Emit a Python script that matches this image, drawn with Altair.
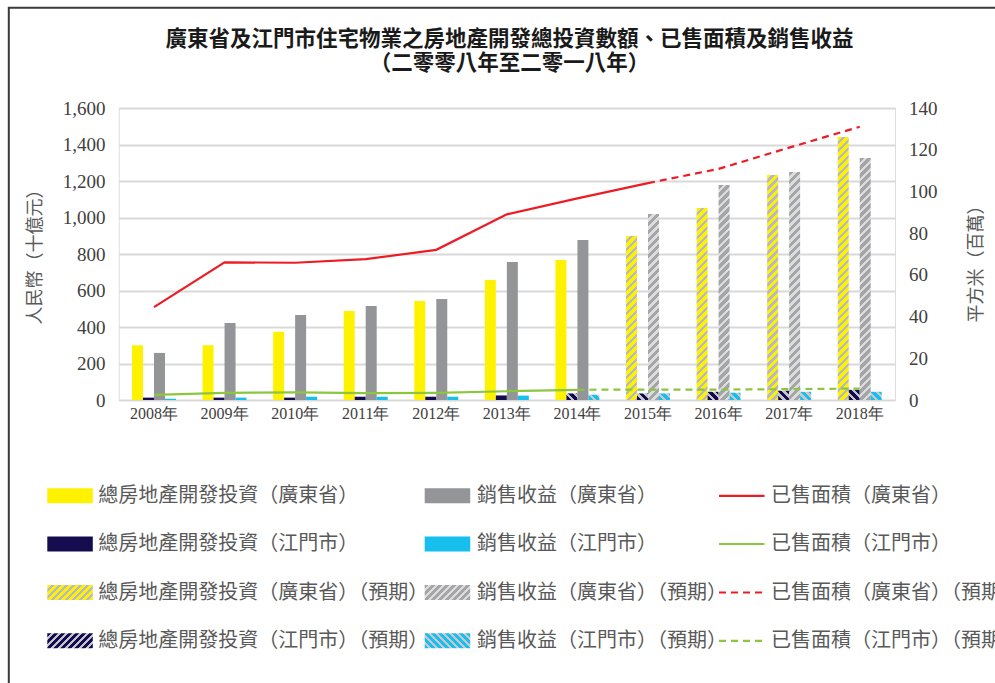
import altair as alt

# ---------------- data ----------------
years = ["2008年", "2009年", "2010年", "2011年", "2012年", "2013年",
         "2014年", "2015年", "2016年", "2017年", "2018年"]
gd_invest = [300, 300, 374, 488, 542, 657, 767, 899, 1052, 1233, 1441]
gd_sales = [258, 422, 466, 515, 553, 756, 877, 1019, 1178, 1249, 1326]
jm_invest = [13, 13, 13, 18, 18, 25, 36, 36, 45, 51, 56]
jm_sales = [7, 13, 18, 18, 18, 24, 29, 36, 40, 45, 45]
gd_area = [44.5, 66.0, 65.8, 67.5, 72.0, 89.0, 96.7, 104.0, 110.8, 121.0, 131.0]
jm_area = [2.5, 3.4, 3.7, 3.3, 3.4, 4.2, 4.9, 5.0, 5.0, 5.2, 5.5]
gd_forecast_from = "2015年"
jm_forecast_from = "2014年"

title_lines = ["廣東省及江門市住宅物業之房地產開發總投資數額、已售面積及銷售收益",
               "（二零零八年至二零一八年）"]
legend_labels = [
    "總房地產開發投資（廣東省）", "銷售收益（廣東省）", "已售面積（廣東省）",
    "總房地產開發投資（江門市）", "銷售收益（江門市）", "已售面積（江門市）",
    "總房地產開發投資（廣東省）（預期）", "銷售收益（廣東省）（預期）", "已售面積（廣東省）（預期）",
    "總房地產開發投資（江門市）（預期）", "銷售收益（江門市）（預期）", "已售面積（江門市）（預期）",
]

# ---------------- style ----------------
W, H = 776.3, 292.0
LEFT_MAX, RIGHT_MAX = 1600, 140
YELLOW, NAVY, GRAY, CYAN = "#fff200", "#140c4f", "#939598", "#17bfef"
RED, GREEN = "#ed1c24", "#8cc63f"
HATCH2 = {"gd_inv": "#b5b7cc", "jm_inv": "#c4c4cc", "gd_sales": "#dcdcdc", "jm_sales": "#c8c8cc"}
BASE = {"gd_inv": YELLOW, "jm_inv": NAVY, "gd_sales": "#a3a5a8", "jm_sales": CYAN}
SOLID = {"gd_inv": YELLOW, "jm_inv": NAVY, "gd_sales": GRAY, "jm_sales": CYAN}
BACK = {"gd_inv": False, "jm_inv": True, "gd_sales": False, "jm_sales": True}
CJK = "Noto Sans CJK TC"


def hatch(c1, c2, w, h, period=8.0, frac2=0.42, back=False):
    L = w + h
    t = L / (w * w + h * h)
    stops = []
    pos = 0.0
    while pos < L - 1e-9:
        a = pos / L
        b = min((pos + period * (1 - frac2)) / L, 1.0)
        c = min((pos + period) / L, 1.0)
        stops += [{"offset": a, "color": c1}, {"offset": b, "color": c1},
                  {"offset": b, "color": c2}, {"offset": c, "color": c2}]
        pos += period
    if back:
        x1, y1, x2, y2 = 0, 1, w * t, 1 - h * t
    else:
        x1, y1, x2, y2 = 0, 0, w * t, h * t
    return {"gradient": "linear", "x1": x1, "y1": y1, "x2": x2, "y2": y2, "stops": stops}


series_order = ["gd_inv", "jm_inv", "gd_sales", "jm_sales"]
series_vals = {"gd_inv": gd_invest, "jm_inv": jm_invest, "gd_sales": gd_sales, "jm_sales": jm_sales}
bar_w = (W / 11) * (1 - 0.377) / 4

bar_rows = []
for s in series_order:
    start = years.index(gd_forecast_from if s.startswith("gd") else jm_forecast_from)
    for i, y in enumerate(years):
        v = series_vals[s][i]
        if i >= start:
            h = max(v / LEFT_MAX * H, 1.0)
            fill = hatch(BASE[s], HATCH2[s], bar_w, h, back=BACK[s])
        else:
            fill = SOLID[s]
        bar_rows.append({"year": y, "series": s, "value": v, "fill": fill})

line_solid, line_dash = [], []
for key, vals, start_year in [("gd", gd_area, gd_forecast_from), ("jm", jm_area, jm_forecast_from)]:
    k = years.index(start_year)
    for i, y in enumerate(years):
        if i <= k:
            line_solid.append({"year": y, "series": key, "value": vals[i]})
        if i >= k:
            line_dash.append({"year": y, "series": key, "value": vals[i]})

x_scale = alt.Scale(domain=years, paddingInner=0.377, paddingOuter=0.1885)
x_axis = alt.Axis(title=None, labelAngle=0, ticks=False, domain=False, grid=False,
                  labelFont="Liberation Serif", labelFontSize=16, labelColor="#404040",
                  labelPadding=5)

bars = alt.Chart(alt.Data(values=bar_rows)).mark_bar().encode(
    x=alt.X("year:N", scale=x_scale, axis=x_axis),
    xOffset=alt.XOffset("series:N", scale=alt.Scale(domain=series_order, paddingInner=0, paddingOuter=0)),
    y=alt.Y("value:Q", scale=alt.Scale(domain=[0, LEFT_MAX], nice=False),
            axis=alt.Axis(title="人民幣（十億元）", values=list(range(0, 1601, 200)), format=",.0f",
                          grid=True, gridColor="#d9d9d9", gridWidth=1.8, domain=False, ticks=False,
                          labelFont="Liberation Serif", labelFontSize=19, labelColor="#404040",
                          labelPadding=13.7, titleFont=CJK, titleFontSize=18, titleFontWeight="normal",
                          titleColor="#595959", titleX=-83.7, titleY=144, titleAngle=270,
                          titleAlign="center", titleBaseline="middle")),
    fill=alt.Fill("fill:N", scale=None),
)

line_color = alt.Color("series:N", scale=alt.Scale(domain=["gd", "jm"], range=[RED, GREEN]), legend=None)
right_axis = alt.Axis(title="平方米（百萬）", orient="right", values=list(range(0, 141, 20)),
                      format=".0f", grid=False, domain=False, ticks=False,
                      labelFont="Liberation Serif", labelFontSize=19, labelColor="#404040",
                      labelPadding=13.5, titleFont=CJK, titleFontSize=18, titleFontWeight="normal",
                      titleColor="#595959", titleX=81, titleY=151, titleAngle=270,
                      titleAlign="center", titleBaseline="middle")
y_right = alt.Y("value:Q", scale=alt.Scale(domain=[0, RIGHT_MAX], nice=False), axis=right_axis)

l_solid = alt.Chart(alt.Data(values=line_solid)).mark_line(strokeWidth=2.2).encode(
    x=alt.X("year:N", scale=x_scale), y=y_right, color=line_color, detail="series:N")
l_dash = alt.Chart(alt.Data(values=line_dash)).mark_line(strokeWidth=2.2, strokeDash=[7, 5]).encode(
    x=alt.X("year:N", scale=x_scale), y=y_right, color=line_color, detail="series:N")
lines = alt.layer(l_solid, l_dash)

# ---------------- legend ----------------
leg_rows = []
sw_w, sw_h = 45.5, 15.0
leg_fill = [YELLOW, GRAY, None, NAVY, CYAN, None,
            hatch(YELLOW, HATCH2["gd_inv"], sw_w, sw_h, period=7),
            hatch("#a3a5a8", HATCH2["gd_sales"], sw_w, sw_h, period=7), None,
            hatch(NAVY, HATCH2["jm_inv"], sw_w, sw_h, period=7),
            hatch(CYAN, HATCH2["jm_sales"], sw_w, sw_h, period=7, back=True), None]
leg_stroke = [None, None, RED, None, None, GREEN, None, None, RED, None, None, GREEN]
for i, lab in enumerate(legend_labels):
    r, c = divmod(i, 3)
    leg_rows.append({"row": r, "col": c, "label": lab,
                     "fill": leg_fill[i] if leg_fill[i] is not None else "transparent",
                     "stroke": leg_stroke[i] if leg_stroke[i] is not None else "transparent",
                     "kind": "line" if leg_stroke[i] else "rect",
                     "dashed": r >= 2})

leg = alt.Chart(alt.Data(values=leg_rows)).transform_calculate(
    sx="[-71.4, 306.0, 600.3][datum.col]",
    tx="[-20.4, 358.3, 652.3][datum.col]",
    cy="[387.8, 436.0, 484.5, 532.8][datum.row]",
).transform_calculate(
    sx2=f"datum.sx + {sw_w}",
    y1=f"datum.cy - {sw_h / 2}",
    y2=f"datum.cy + {sw_h / 2}",
)
leg_rect = leg.transform_filter("datum.kind == 'rect'").mark_rect().encode(
    x=alt.X("sx:Q", scale=None), x2="sx2:Q", y=alt.Y("y1:Q", scale=None), y2="y2:Q",
    fill=alt.Fill("fill:N", scale=None))
leg_line = leg.transform_filter("datum.kind == 'line' && !datum.dashed").mark_rule(strokeWidth=2.2).encode(
    x=alt.X("sx:Q", scale=None), x2="sx2:Q", y=alt.Y("cy:Q", scale=None),
    stroke=alt.Stroke("stroke:N", scale=None))
leg_dline = leg.transform_filter("datum.kind == 'line' && datum.dashed").mark_rule(
    strokeWidth=2.2, strokeDash=[7, 5]).encode(
    x=alt.X("sx:Q", scale=None), x2="sx2:Q", y=alt.Y("cy:Q", scale=None),
    stroke=alt.Stroke("stroke:N", scale=None))
leg_text = leg.mark_text(align="left", baseline="middle", font=CJK, fontSize=20,
                         color="#595959").encode(
    x=alt.X("tx:Q", scale=None), y=alt.Y("cy:Q", scale=None), text="label:N")

# ---------------- title (as text marks) ----------------
title = alt.Chart(alt.Data(values=[{"i": i, "t": t} for i, t in enumerate(title_lines)])).transform_calculate(
    ty="[-68, -44][datum.i]"
).mark_text(align="center", baseline="middle", font=CJK, fontSize=21.5, fontWeight="bold",
            color="#1a1a1a").encode(
    x=alt.value(390.8), y=alt.Y("ty:Q", scale=None), text="t:N")

border = alt.Chart(alt.Data(values=[{"b": 1}])).mark_rect(
    fillOpacity=0, stroke="#3a3a3a", strokeWidth=2).encode(
    x=alt.value(-109.9), x2=alt.value(1000), y=alt.value(-100.2), y2=alt.value(700))

chart = alt.layer(border, bars, lines, leg_rect, leg_line, leg_dline, leg_text, title).resolve_scale(
    y="independent", fill="independent", color="independent", stroke="independent"
).properties(
    width=W, height=H,
    autosize=alt.AutoSizeParams(type="none"),
    padding={"left": 118.7, "top": 108, "right": 100, "bottom": 283},
).configure_view(stroke=None).configure(background="white")

chart.save("out.html", embed_options={"renderer": "svg", "actions": False})
